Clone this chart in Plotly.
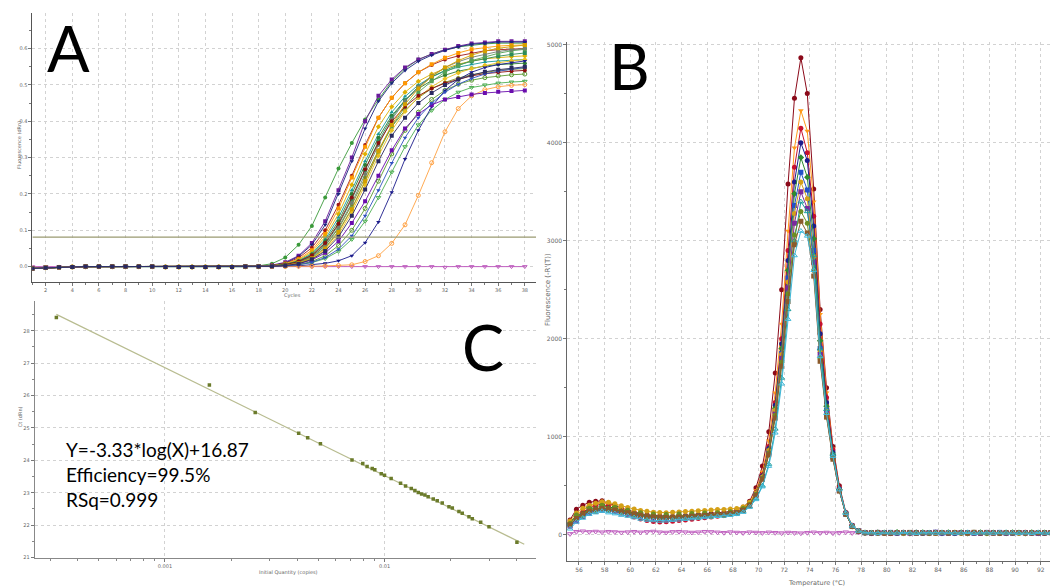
import math
import plotly.graph_objects as go

W, H = 1058, 587

# ---------------- Panel A : amplification plot ----------------
cycles = list(range(1, 39))
a_baseline_1_17 = [-0.005, -0.003, -0.002, -0.001, 0.0, 0.0, 0.0, 0.0, 0.0, 0.0,
                   -0.001, -0.001, -0.001, -0.001, -0.001, -0.001, 0.0]
# values for cycles 18..38
a_curves_18_38 = [
    [0.002,0.008,0.025,0.06,0.112,0.19,0.27,0.34,0.405,0.46,0.51,0.545,0.57,0.585,0.597,0.605,0.61,0.613,0.615,0.615,0.615],
    [0.001,0.004,0.012,0.03,0.065,0.125,0.21,0.30,0.40,0.47,0.515,0.548,0.57,0.585,0.597,0.607,0.614,0.617,0.62,0.62,0.62],
    [0.001,0.003,0.01,0.028,0.06,0.115,0.2,0.29,0.38,0.455,0.505,0.54,0.565,0.582,0.595,0.605,0.612,0.615,0.618,0.618,0.618],
    [0.001,0.003,0.009,0.024,0.052,0.1,0.17,0.25,0.335,0.41,0.465,0.505,0.535,0.555,0.57,0.58,0.588,0.594,0.597,0.599,0.6],
    [0.001,0.002,0.008,0.02,0.045,0.09,0.16,0.245,0.33,0.41,0.465,0.505,0.535,0.557,0.575,0.588,0.598,0.603,0.607,0.609,0.61],
    [0.001,0.002,0.007,0.018,0.04,0.082,0.145,0.225,0.31,0.385,0.44,0.48,0.51,0.53,0.545,0.557,0.566,0.572,0.576,0.578,0.58],
    [0.0,0.002,0.006,0.016,0.036,0.075,0.135,0.21,0.29,0.365,0.425,0.468,0.5,0.522,0.538,0.549,0.557,0.563,0.566,0.568,0.57],
    [0.0,0.002,0.006,0.015,0.033,0.07,0.125,0.2,0.28,0.355,0.415,0.458,0.49,0.512,0.527,0.538,0.546,0.552,0.556,0.558,0.56],
    [0.0,0.001,0.005,0.013,0.03,0.062,0.115,0.185,0.265,0.345,0.41,0.458,0.495,0.522,0.54,0.555,0.565,0.573,0.579,0.584,0.588],
    [0.0,0.001,0.004,0.012,0.027,0.057,0.105,0.17,0.245,0.32,0.385,0.43,0.465,0.49,0.507,0.519,0.528,0.535,0.54,0.543,0.545],
    [0.0,0.001,0.004,0.011,0.025,0.052,0.098,0.16,0.235,0.315,0.385,0.44,0.48,0.51,0.535,0.553,0.567,0.578,0.587,0.594,0.598],
    [0.0,0.001,0.003,0.009,0.021,0.046,0.088,0.15,0.225,0.305,0.375,0.427,0.466,0.495,0.517,0.533,0.545,0.554,0.561,0.566,0.57],
    [0.0,0.001,0.002,0.005,0.011,0.022,0.042,0.075,0.125,0.19,0.26,0.33,0.39,0.43,0.46,0.48,0.493,0.5,0.505,0.508,0.51],
    [0.0,0.001,0.002,0.006,0.014,0.03,0.058,0.1,0.16,0.235,0.31,0.375,0.425,0.46,0.485,0.502,0.513,0.52,0.525,0.528,0.53],
    [0.0,0.0,0.001,0.002,0.005,0.009,0.016,0.03,0.066,0.123,0.205,0.296,0.375,0.44,0.485,0.515,0.535,0.548,0.556,0.562,0.566],
    [0.0,0.0,0.0,0.001,0.001,0.002,0.003,0.005,0.014,0.03,0.064,0.115,0.196,0.286,0.371,0.435,0.47,0.487,0.495,0.499,0.501],
    [0.0,0.001,0.003,0.008,0.018,0.038,0.07,0.12,0.18,0.25,0.32,0.38,0.42,0.445,0.46,0.467,0.474,0.478,0.481,0.483,0.485],
    [0.0,0.001,0.004,0.012,0.028,0.058,0.108,0.175,0.255,0.335,0.405,0.455,0.495,0.525,0.548,0.564,0.576,0.585,0.592,0.597,0.6],
    [0.0,0.001,0.005,0.014,0.031,0.065,0.118,0.19,0.268,0.34,0.4,0.44,0.47,0.49,0.505,0.516,0.525,0.531,0.535,0.538,0.54],
    [0.0,0.001,0.003,0.01,0.023,0.05,0.095,0.158,0.235,0.318,0.39,0.447,0.49,0.523,0.548,0.567,0.582,0.593,0.601,0.606,0.61],
    [0.0,0.001,0.002,0.005,0.012,0.025,0.048,0.085,0.14,0.21,0.285,0.355,0.41,0.45,0.48,0.502,0.518,0.53,0.538,0.544,0.548],
    [0.0,0.001,0.003,0.008,0.02,0.043,0.082,0.14,0.212,0.29,0.36,0.41,0.45,0.478,0.5,0.515,0.527,0.536,0.542,0.547,0.55],
]
a_ntc = [0.0, 0.0, 0.0, 0.0, 0.0, 0.0, 0.0, 0.0, 0.0, 0.0, 0.0, 0.0, 0.0, 0.0, 0.0, 0.0, 0.0, 0.0, 0.0,
         0.0, 0.0, 0.0, 0.0, 0.0, 0.0, 0.0, 0.0, 0.0, 0.0, 0.0, 0.0, -0.002, 0.0, 0.0, 0.0, 0.0, 0.0, 0.0]
a_threshold = 0.081

# ---------------- Panel B : melt curves ----------------
melt_temps = [round(55.3 + 0.5 * i, 1) for i in range(78)]
melt_low = [  # 55.3 .. 69.3 C
    [150,260,300,330,340,345,320,300,270,250,230,215,200,195,190,188,185,190,195,200,205,210,215,220,225,235,250,280,340],
    [90,200,250,290,310,330,310,290,265,240,225,205,195,185,180,175,182,188,190,196,200,205,208,212,218,226,240,268,325],
    [130,190,230,270,300,310,290,260,230,200,180,160,145,135,130,132,138,145,150,158,165,172,180,188,195,205,220,250,305],
    [100,160,200,235,255,262,258,248,235,222,208,196,188,182,178,176,178,181,184,188,193,197,200,204,209,217,229,253,306],
    [120,195,210,275,265,305,270,285,240,250,210,220,185,200,175,195,172,198,178,205,185,212,192,218,200,232,222,262,312],
    [95,150,195,228,248,258,252,240,228,215,202,190,182,176,172,170,172,176,180,184,188,192,196,200,205,212,224,248,300],
    [140,220,270,300,320,335,330,315,295,278,262,248,238,230,226,225,228,232,236,240,244,248,252,256,258,262,268,285,330],
    [85,140,185,218,240,250,246,236,222,210,198,188,180,174,170,168,170,174,178,182,186,190,194,198,203,210,222,246,298],
    [105,165,205,235,255,265,260,250,236,222,208,196,186,180,176,174,176,179,182,186,190,194,197,200,204,210,220,240,285],
    [115,200,190,270,240,300,250,280,225,250,195,225,170,210,165,205,170,210,175,215,180,220,185,225,195,235,220,268,308],
    [100,165,210,240,260,268,264,252,238,224,210,198,188,182,178,176,178,181,184,188,192,196,199,203,208,215,227,250,300],
    [60,130,170,210,225,240,225,215,200,190,175,160,150,145,140,142,148,152,158,165,170,176,182,188,192,198,208,230,282],
]
melt_peak = [  # 69.8 .. 78.3 C
    [480,700,1050,1650,2500,3580,4455,4868,4503,3530,2300,1500,900,500,230,95,40,22],
    [450,640,960,1450,2150,3100,3950,4330,4120,3400,2250,1450,880,480,215,85,35,20],
    [430,610,900,1350,2000,2900,3750,4150,3900,3250,2150,1400,870,480,220,88,38,20],
    [425,600,880,1320,1950,2800,3600,4000,3820,3150,2050,1350,840,470,215,88,38,21],
    [415,585,860,1290,1900,2700,3480,3850,3650,3020,1980,1310,820,460,212,86,37,20],
    [410,575,840,1260,1850,2620,3360,3700,3520,2900,1900,1270,800,450,208,85,36,20],
    [425,590,860,1270,1840,2580,3280,3600,3430,2840,1870,1260,800,455,212,86,37,20],
    [405,570,830,1230,1800,2520,3180,3500,3330,2780,1840,1240,790,455,215,88,38,21],
    [370,500,720,1080,1600,2300,3000,3400,3300,2850,1900,1280,820,470,225,92,40,22],
    [410,575,830,1220,1760,2460,3060,3300,3180,2700,1800,1220,780,450,212,86,37,20],
    [400,565,815,1190,1720,2380,2960,3200,3080,2640,1770,1200,770,445,210,85,36,20],
    [360,490,700,1040,1540,2200,2850,3100,3050,2700,1820,1240,800,460,220,90,38,21],
]
melt_tail = [  # 78.8 .. 93.8 C
    [18,20,15,22,19,16,21,18,14,20,17,22,19,15,18,21,16,19,23,17,14,20,18,22,16,19,21,15,18,20,17],
    [22,15,19,24,17,20,15,21,18,23,16,19,22,17,20,15,18,24,19,16,21,17,20,23,15,18,22,19,16,21,18],
    [15,21,18,13,20,24,17,19,22,16,18,21,14,19,23,17,20,16,18,22,19,15,21,17,24,18,16,20,22,17,19],
    [20,17,23,18,15,21,19,24,16,18,22,17,20,14,19,21,23,16,18,20,15,22,19,17,21,18,23,16,20,18,15],
    [16,22,19,17,24,18,15,20,23,17,19,16,22,18,21,15,19,23,17,20,18,16,22,19,15,21,17,20,24,18,16],
    [19,16,21,23,17,19,22,15,18,21,24,16,19,17,22,20,15,18,21,19,23,17,16,20,22,18,15,21,19,17,22],
    [21,18,16,20,22,15,19,17,23,18,16,21,19,24,17,15,20,22,18,16,19,23,21,15,18,20,17,22,16,19,21],
    [17,23,20,16,18,22,15,21,19,17,24,18,16,20,22,19,17,15,23,18,21,16,19,22,17,20,15,18,23,16,20],
    [14,19,22,17,21,16,20,18,15,22,19,23,17,16,20,18,22,15,19,21,17,24,16,18,20,22,19,15,17,21,18],
    [23,17,19,21,16,20,18,22,17,15,21,19,16,23,18,20,17,21,15,19,22,18,16,20,17,23,19,21,18,15,20],
    [18,21,17,15,22,19,23,16,20,18,15,22,17,21,19,16,24,18,20,17,15,21,19,22,18,16,20,17,23,19,16],
    [20,16,22,19,17,23,18,15,21,20,17,19,22,16,18,24,15,20,19,17,22,18,21,16,19,15,23,17,20,18,22],
]
melt_ntc = [8,30,35,28,32,25,30,27,22,26,30,24,28,32,25,22,28,30,26,22,25,30,28,24,20,26,22,18,25,22,
            18,24,20,16,22,18,15,20,24,18,22,16,20,25,18,22,19,
            12,15,18,14,16,13,17,15,12,18,14,16,13,15,17,14,12,16,18,13,15,17,14,16,12,15,18,13,16,14,15]

# ---------------- Panel C : standard curve ----------------
c_quantity = [0.00032, 0.001593, 0.002576, 0.004064, 0.004467, 0.005105, 0.00711, 0.00796, 0.00833,
              0.00879, 0.00903, 0.00966, 0.0100, 0.01072, 0.01183, 0.01247, 0.01324, 0.01375, 0.01425,
              0.01476, 0.01528, 0.0158, 0.01667, 0.01738, 0.01832, 0.01966, 0.02036, 0.02183, 0.0226,
              0.02425, 0.02511, 0.02742, 0.02992, 0.0401]
c_ct = [28.41, 26.33, 25.48, 24.84, 24.70, 24.51, 24.01, 23.90, 23.81, 23.75, 23.71, 23.59, 23.54,
        23.44, 23.29, 23.21, 23.13, 23.07, 23.01, 22.96, 22.93, 22.88, 22.81, 22.75, 22.68, 22.57,
        22.53, 22.42, 22.37, 22.26, 22.20, 22.09, 21.95, 21.47]
c_slope = -3.33
c_intercept = 16.87
c_text = ["Y=-3.33*log(X)+16.87", "Efficiency=99.5%", "RSq=0.999"]

# ---------------- styles ----------------
a_colors = ['#3a9a3a', '#6a1b9a', '#1a237e', '#a01818', '#ff9800', '#e0b000', '#1a9a9a',
            '#2e7d32', '#2d8b57', '#7a8a20', '#55a055', '#e8c020', '#4caf50', '#5a9a30',
            '#1a1a8a', '#ffa040', '#6a0dad', '#708070', '#8b1010', '#d4a000', '#3050c0', '#2a2a60']
a_symbols = ['circle', 'square', 'triangle-down', 'circle', 'square', 'diamond', 'triangle-up',
             'circle', 'square', 'circle', 'square', 'diamond', 'triangle-down-open', 'circle-open',
             'triangle-down', 'circle-open', 'square', 'circle', 'circle', 'square', 'triangle-down',
             'square']
m_colors = ['#8b0a1a', '#ff9a1a', '#c8102e', '#1c1c8c', '#2e8b2e', '#2050c8', '#d4a017',
            '#7b2a9c', '#1a9c9c', '#6b8e23', '#8b5a2b', '#40b8d8']
m_symbols = ['circle', 'triangle-down', 'circle', 'circle', 'diamond', 'square', 'circle',
             'square', 'triangle-up-open', 'circle', 'square', 'triangle-up-open']


def px(x):
    return x / W


def py(y):
    return 1 - y / H


fig = go.Figure()

# Panel A traces
fig.add_trace(go.Scatter(x=cycles, y=a_ntc, mode='lines+markers', xaxis='x', yaxis='y',
                         line=dict(color='#c060c0', width=1),
                         marker=dict(symbol='triangle-down-open', size=4, color='#c060c0')))
for i, vals in enumerate(a_curves_18_38):
    fig.add_trace(go.Scatter(x=cycles, y=a_baseline_1_17 + vals, mode='lines+markers',
                             xaxis='x', yaxis='y',
                             line=dict(color=a_colors[i], width=0.9),
                             marker=dict(symbol=a_symbols[i], size=4, color=a_colors[i])))
fig.add_trace(go.Scatter(x=[1, 38.84], y=[a_threshold, a_threshold], mode='lines',
                         xaxis='x', yaxis='y', line=dict(color='#9a9a70', width=1.2)))

# Panel B traces
fig.add_trace(go.Scatter(x=melt_temps, y=melt_ntc, mode='lines+markers', xaxis='x2', yaxis='y2',
                         line=dict(color='#c878c8', width=1),
                         marker=dict(symbol='triangle-down-open', size=5, color='#c060c0')))
for i in range(len(melt_low)):
    vals = melt_low[i] + melt_peak[i] + melt_tail[i]
    fig.add_trace(go.Scatter(x=melt_temps, y=vals, mode='lines+markers', xaxis='x2', yaxis='y2',
                             line=dict(color=m_colors[i], width=1),
                             marker=dict(symbol=m_symbols[i], size=5, color=m_colors[i])))

# Panel C traces
q_lo, q_hi = min(c_quantity), max(c_quantity) * 1.08
fit_x = [q_lo, q_hi]
fit_y = [c_slope * math.log10(q) + c_intercept for q in fit_x]
fig.add_trace(go.Scatter(x=fit_x, y=fit_y, mode='lines', xaxis='x3', yaxis='y3',
                         line=dict(color='#b8bc90', width=1.2)))
fig.add_trace(go.Scatter(x=c_quantity, y=c_ct, mode='markers', xaxis='x3', yaxis='y3',
                         marker=dict(symbol='square', size=3.5, color='#6b7b2b')))

tickfont = dict(family='DejaVu Sans', size=5, color='#666666')
grid = dict(showgrid=True, gridcolor='#d2d2d2', griddash='dot', gridwidth=1, zeroline=False,
            showline=True, ticks='outside', ticklen=3, tickcolor='#777777')

fig.update_layout(
    width=W, height=H, margin=dict(l=0, r=0, t=0, b=0),
    paper_bgcolor='white', plot_bgcolor='white', showlegend=False,
    xaxis=dict(domain=[px(24.4), px(528)], range=[1, 38.84], anchor='y',
               tickvals=list(range(2, 39, 2)), tickfont=tickfont, linecolor='#555555',
               minor=dict(dtick=1, tick0=1, ticks='outside', ticklen=2, tickcolor='#777777'), **grid),
    yaxis=dict(domain=[py(275), py(4)], range=[-0.0427, 0.6981], anchor='x',
               dtick=0.1, tick0=0, tickformat='.1f', tickfont=tickfont, linecolor='#555555',
               minor=dict(dtick=0.05, tick0=0, ticks='outside', ticklen=2, tickcolor='#777777'), **grid),
    xaxis2=dict(domain=[px(559.3), 1.0], range=[55.09, 93.97], anchor='y2',
                tickvals=list(range(56, 93, 2)), tickfont=dict(family='DejaVu Sans', size=6, color='#666666'),
                linecolor='#666666',
                minor=dict(dtick=1, tick0=55, ticks='outside', ticklen=2, tickcolor='#777777'), **grid),
    yaxis2=dict(domain=[py(555.7), py(33)], range=[-268, 5032], anchor='x2',
                dtick=1000, tick0=0, tickfont=dict(family='DejaVu Sans', size=6, color='#666666'),
                linecolor='#666666',
                minor=dict(dtick=500, tick0=0, ticks='outside', ticklen=2, tickcolor='#777777'), **grid),
    xaxis3=dict(domain=[px(26.7), px(528)], type='log', range=[-3.5935, -1.31], anchor='y3',
                tickvals=[0.001, 0.01], ticktext=['0.001', '0.01'], tickfont=tickfont,
                linecolor='#888888',
                minor=dict(tickvals=[m * 10 ** e for e in (-4, -3, -2) for m in range(2, 10)],
                           ticks='outside', ticklen=2, tickcolor='#888888'), **grid),
    yaxis3=dict(domain=[py(552.3), py(294)], range=[21, 28.92], anchor='x3',
                dtick=1, tick0=21, tickfont=tickfont, linecolor='#888888',
                minor=dict(dtick=0.5, tick0=21, ticks='outside', ticklen=2, tickcolor='#888888'), **grid),
)

ann = []


def label(text, x, y, size, color='#666666', angle=0, family='DejaVu Sans', xanchor='center',
          yanchor='middle'):
    ann.append(dict(text=text, x=px(x), y=py(y), xref='paper', yref='paper', showarrow=False,
                    xanchor=xanchor, yanchor=yanchor, textangle=angle, borderpad=0,
                    font=dict(family=family, size=size, color=color)))


label('Fluorescence (dRn)', 11, 137, 5, angle=-90)
label('Cycles', 284, 288, 5)
label("Fluorescence (-R'(T))", 540, 283, 7, angle=-90)
label('Temperature (°C)', 808, 578, 6.5)
label('Ct (dRn)', 12, 411, 5, angle=-90)
label('Initial Quantity (copies)', 280, 567, 5)

big = 'Lato'
label('A', 60, 0.5, 63, color='black', family=big, yanchor='top')
label('B', 621, 57, 63, color='black', family=big)
label('C', 475, 340, 63, color='black', family=big)
for t, yy in zip(c_text, [444, 469, 494]):
    label(t, 57, yy, 19, color='black', family=big, xanchor='left')

fig.update_layout(annotations=ann)
fig.write_html('out.html')
